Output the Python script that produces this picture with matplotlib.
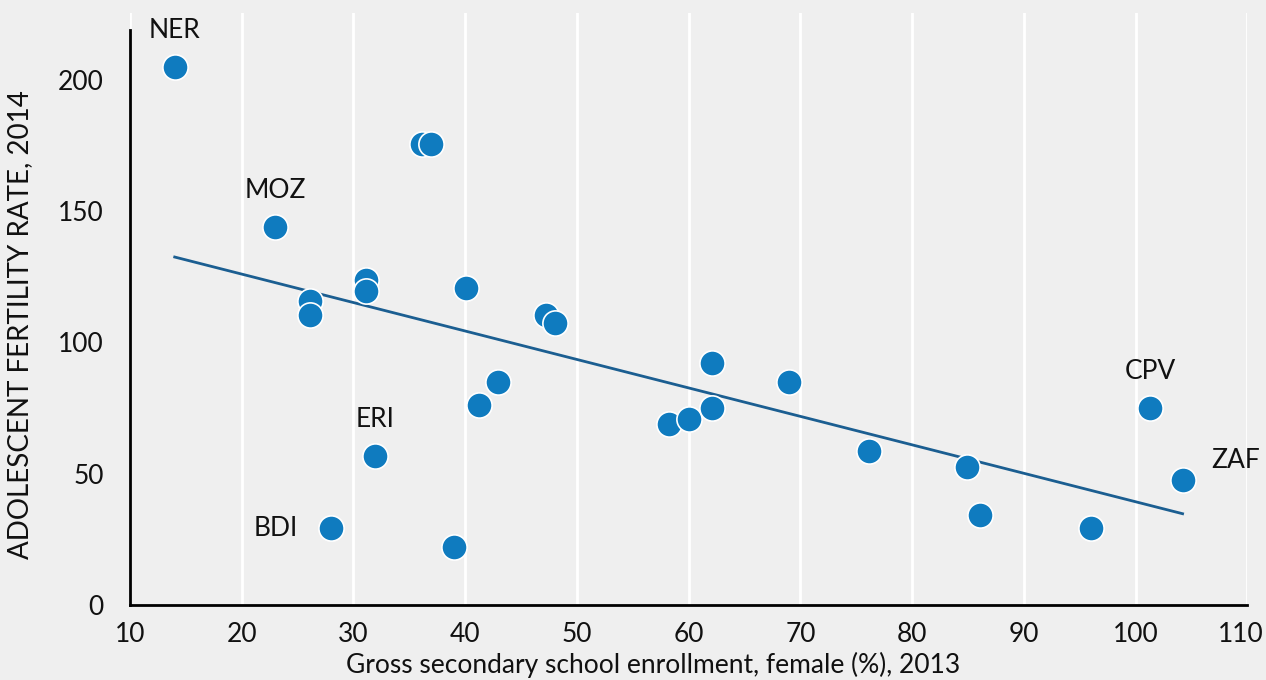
import numpy as np
import matplotlib
matplotlib.use("Agg")
import matplotlib.pyplot as plt
import matplotlib.transforms as mtransforms

plt.rcParams['font.family'] = ['Lato', 'DejaVu Sans']

# female secondary enrollment (%) 2013 vs adolescent fertility rate 2014
enrollment = [14.0, 36.1, 36.9, 23.0, 26.1, 26.1, 31.1, 31.1, 40.1, 47.2, 48.0,
              62.1, 42.9, 69.0, 41.2, 58.2, 60.0, 62.1, 31.9, 76.1, 84.9, 86.1,
              96.0, 101.3, 104.2, 28.0, 39.0]
fertility = [205.0, 175.6, 175.6, 144.0, 115.8, 110.5, 123.8, 119.6, 120.8, 110.5, 107.4,
             92.2, 85.0, 85.0, 76.2, 69.0, 70.9, 75.0, 56.8, 58.7, 52.6, 34.3,
             29.3, 75.0, 47.6, 29.3, 22.1]

labels = {'NER': 0, 'MOZ': 3, 'ERI': 18, 'CPV': 23, 'ZAF': 24, 'BDI': 25}

x = np.array(enrollment)
y = np.array(fertility)

fig = plt.figure(figsize=(12.66, 6.8), dpi=100)
fig.patch.set_facecolor('#efefef')
ax = fig.add_axes([0.1027, 0.1103, 0.8826, 0.8707])
ax.set_facecolor('#efefef')

# trend line
slope, intercept = np.polyfit(x, y, 1)
xs = np.array([x.min(), x.max()])
ax.plot(xs, slope * xs + intercept, color='#1b5e91', linewidth=2, zorder=2)

ax.scatter(x, y, s=330, color='#0f7bbf', edgecolors='white', linewidths=1.2, zorder=3)

for name, i in labels.items():
    if name == 'ZAF':
        off = (38, 14)
    elif name == 'BDI':
        off = (-40, 0)
    else:
        off = (0, 26)
    ax.annotate(name, (x[i], y[i]), xytext=off, textcoords='offset points',
                ha='center', va='center', fontsize=19, color='#111111')

ax.set_xlim(10, 110)
ax.set_ylim(0, 225.5)
ax.set_xticks(range(10, 111, 10))
ax.set_yticks([0, 50, 100, 150, 200])
ax.grid(axis='x', color='white', linewidth=2)
ax.grid(axis='y', visible=False)
ax.set_axisbelow(True)

for side in ['top', 'right']:
    ax.spines[side].set_visible(False)
ax.spines['left'].set_bounds(0, 219)
ax.spines['left'].set_linewidth(2)
ax.spines['bottom'].set_linewidth(2)
ax.tick_params(length=0, labelsize=19, colors='#111111')
ax.tick_params(axis='x', pad=12)
ax.tick_params(axis='y', pad=19)

# keep the last x tick label inside the figure
last = ax.get_xticklabels()[-1]
last.set_transform(last.get_transform() +
                   mtransforms.ScaledTranslation(-7 / 100, 0, fig.dpi_scale_trans))

ax.set_xlabel('Gross secondary school enrollment, female (%), 2013', fontsize=19,
              color='#111111')
ax.xaxis.set_label_coords(0.468, -0.079)
ax.set_ylabel('ADOLESCENT FERTILITY RATE, 2014', fontsize=20, color='#111111')
ax.yaxis.set_label_coords(-0.087, 0.473)

fig.savefig('out.png', dpi=100, facecolor=fig.get_facecolor())
